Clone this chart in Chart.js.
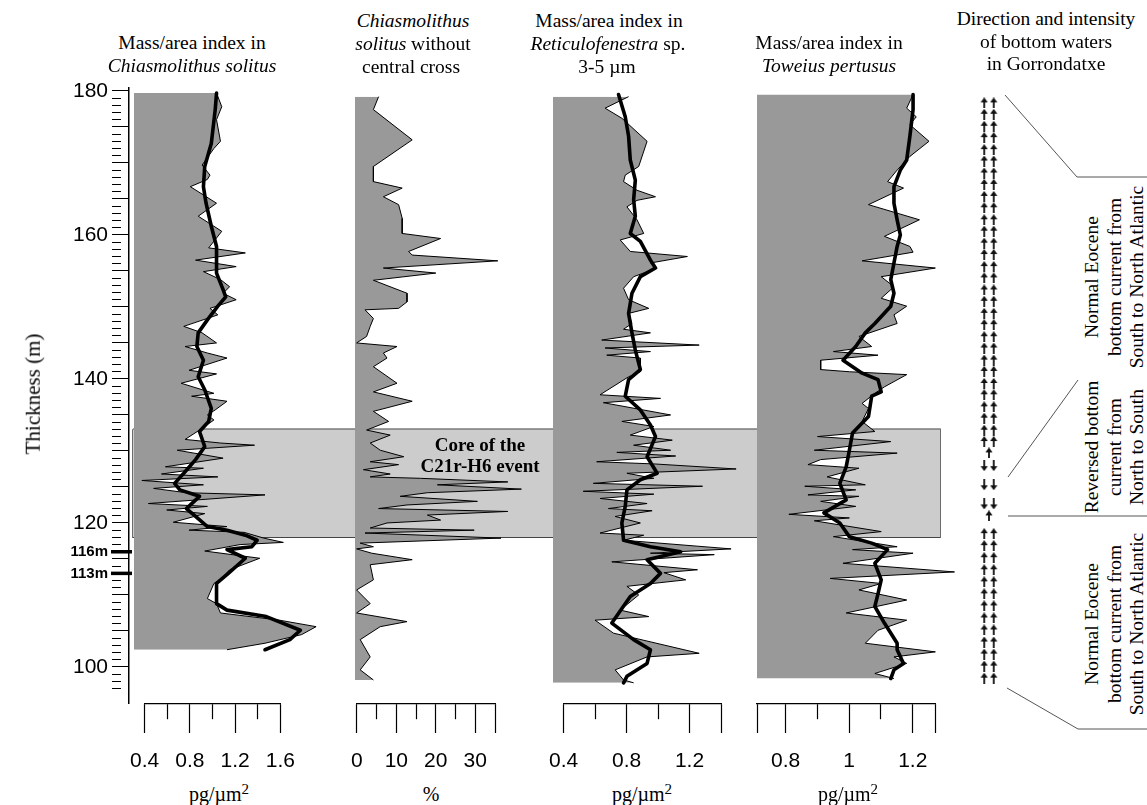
<!DOCTYPE html>
<html>
<head>
<meta charset="utf-8">
<script src="https://cdn.jsdelivr.net/npm/chart.js@4.4.0/dist/chart.umd.min.js"></script>
<style>
  body { margin: 0; background: #fff; }
  #fig { position: relative; width: 1147px; height: 805px; overflow: hidden; background: #fff;
         font-family: "Liberation Serif", "Times New Roman", serif; color: #000; }
  #fig canvas { position: absolute; }
  .ln { position: absolute; font-size: 19.5px; line-height: 23px; white-space: nowrap; transform: translateX(-50%); }
  .unit { position: absolute; font-size: 20px; line-height: 24px; white-space: nowrap; transform: translateX(-50%); }
  .unit sup { font-size: 15px; vertical-align: 7px; line-height: 0; }
  .rot { position: absolute; font-size: 19.5px; line-height: 22.5px; white-space: nowrap; text-align: center;
         transform: translate(-50%, -50%) rotate(-90deg); }
  .core { position: absolute; font-weight: bold; font-size: 19px; line-height: 21px; text-align: center;
          white-space: nowrap; transform: translateX(-50%); }
  svg { position: absolute; left: 0; top: 0; }
</style>
</head>
<body>
<div id="fig">
  <canvas id="coreBox" width="811" height="619" style="left:131px;top:86px"></canvas>
  <canvas id="yAxis" width="140" height="655" style="left:0px;top:68px"></canvas>
  <canvas id="p1" width="190" height="615" style="left:134px;top:88px"></canvas>
  <canvas id="p2" width="180" height="615" style="left:355px;top:88px"></canvas>
  <canvas id="p3" width="190" height="615" style="left:553px;top:88px"></canvas>
  <canvas id="p4" width="200" height="615" style="left:757px;top:88px"></canvas>
  <canvas id="arrows" width="48" height="615" style="left:965px;top:88px"></canvas>
  <canvas id="ax1" width="197" height="72" style="left:114px;top:702px"></canvas>
  <canvas id="ax2" width="180" height="72" style="left:335px;top:702px"></canvas>
  <canvas id="ax3" width="208" height="72" style="left:533px;top:702px"></canvas>
  <canvas id="ax4" width="218" height="72" style="left:737px;top:702px"></canvas>

  <div class="ln" style="left:192px;top:31px">Mass/area index in</div>
  <div class="ln" style="left:192px;top:54px"><i>Chiasmolithus solitus</i></div>
  <div class="ln" style="left:413px;top:9px"><i>Chiasmolithus</i></div>
  <div class="ln" style="left:413px;top:32px"><i>solitus</i> without</div>
  <div class="ln" style="left:411px;top:55px">central cross</div>
  <div class="ln" style="left:609px;top:9px">Mass/area index in</div>
  <div class="ln" style="left:608px;top:32px"><i>Reticulofenestra</i> sp.</div>
  <div class="ln" style="left:607px;top:55px">3-5 µm</div>
  <div class="ln" style="left:829px;top:31px">Mass/area index in</div>
  <div class="ln" style="left:829px;top:54px"><i>Toweius pertusus</i></div>
  <div class="ln" style="left:1046px;top:7px">Direction and intensity</div>
  <div class="ln" style="left:1046px;top:30px">of bottom waters</div>
  <div class="ln" style="left:1046px;top:52px">in Gorrondatxe</div>

  <div class="rot" style="left:33px;top:394px;font-size:21px">Thickness (m)</div>

  <div class="core" style="left:480px;top:434px">Core of the<br>C21r-H6 event</div>

  <div class="unit" style="left:219px;top:782px">pg/µm<sup>2</sup></div>
  <div class="unit" style="left:431px;top:782px">%</div>
  <div class="unit" style="left:642px;top:782px">pg/µm<sup>2</sup></div>
  <div class="unit" style="left:848px;top:782px">pg/µm<sup>2</sup></div>

  <div class="rot" style="left:1115px;top:277px">Normal Eocene<br>bottom current from<br>South to North Atlantic</div>
  <div class="rot" style="left:1115px;top:447px">Reversed bottom<br>current from<br>North to South</div>
  <div class="rot" style="left:1115px;top:624px">Normal Eocene<br>bottom current from<br>South to North Atlantic</div>

  <svg width="1147" height="805">
    <g stroke="#555" stroke-width="1" fill="none">
      <polyline points="1005,95 1077,177 1147,177"/>
      <polyline points="1008,477 1078,380"/>
      <polyline points="1008,516 1147,516"/>
      <polyline points="1007,688 1078,729 1147,729"/>
    </g>
  </svg>
</div>

<script>
/************ data: depth (m) and values ************/
// Mass/area index in Chiasmolithus solitus (pg/µm2)
const p1Depth = [179.7, 177.8, 176.0, 173.0, 172.0, 169.7, 168.3, 167.7, 166.7, 164.4, 162.6, 160.5, 158.2, 157.5, 156.5,
  155.6, 154.9, 153.8, 152.8, 151.9, 151.0, 149.8, 148.9, 147.3, 146.4, 145.0, 144.5, 143.6, 142.9, 141.2,
  140.7, 139.4, 138.0, 137.6, 136.9, 135.7, 135.0, 134.3, 132.9, 131.6, 131.1, 130.8, 130.1, 129.0, 127.8,
  127.6, 126.8, 126.4, 125.9, 125.3, 124.8, 124.2, 123.9, 122.7, 122.3, 121.8, 121.3, 120.1, 119.5, 119.0,
  118.7, 117.9, 117.3, 117.0, 116.1, 115.1, 113.5, 112.1, 111.6, 109.5, 108.8, 107.5, 106.5, 105.6, 104.5,
  103.3, 102.4];
const p1Mass = [1.03, 1.07, 1.03, 1.06, 1.01, 0.92, 0.98, 0.96, 0.83, 1.03, 0.89, 1.07, 0.97, 1.25, 0.87,
  1.18, 0.93, 1.06, 1.13, 1.08, 1.18, 0.98, 1.04, 0.78, 0.92, 1.03, 0.79, 0.96, 1.11, 0.82,
  1.03, 0.76, 1.01, 0.84, 1.11, 1.02, 0.96, 1.01, 0.90, 0.79, 1.06, 1.32, 0.73, 1.08, 0.64,
  0.93, 0.61, 1.04, 0.46, 0.93, 0.55, 0.80, 1.40, 0.51, 0.96, 0.65, 0.94, 0.70, 1.11, 0.82,
  1.24, 1.39, 1.54, 1.21, 0.94, 1.36, 1.13, 1.06, 1.01, 0.96, 1.03, 1.06, 1.51, 1.79, 1.68,
  1.40, 1.11];
const p1SmoothDepth = [179.7, 177.4, 172.7, 169.5, 166.7, 164.4, 161.2, 158.4, 154.7, 152.4, 151.4, 150.1, 148.2, 146.4,
  144.5, 142.6, 140.3, 138.5, 135.9, 134.1, 132.7, 130.6, 128.8, 126.9, 125.5, 124.6, 123.7, 122.0, 120.9,
  119.5, 119.0, 118.3, 117.6, 116.7, 116.3, 115.1, 113.0, 111.6, 108.8, 107.9, 107.0, 105.1, 103.8, 102.4];
const p1Smooth = [1.03, 1.02, 0.99, 0.94, 0.93, 0.95, 0.99, 1.03, 1.03, 1.08, 1.10, 1.04, 0.96, 0.89,
  0.88, 0.93, 0.89, 0.94, 0.99, 0.97, 0.90, 0.94, 0.87, 0.78, 0.71, 0.75, 0.90, 0.80, 0.87,
  0.96, 1.11, 1.25, 1.34, 1.30, 1.11, 1.25, 1.12, 1.03, 1.03, 1.11, 1.41, 1.67, 1.59, 1.40];

// Chiasmolithus solitus without central cross (%)
const p2Depth = [179.2, 177.4, 173.2, 169.5, 167.4, 166.5, 165.3, 164.2, 162.3, 160.2, 159.5, 157.7, 157.2, 156.4, 155.4,
  154.7, 153.7, 151.9, 150.7, 149.8, 149.6, 148.4, 147.3, 145.9, 145.0, 144.5, 143.6, 142.9, 141.7, 139.4,
  138.2, 136.9, 135.5, 134.1, 132.9, 132.2, 131.1, 130.1, 129.2, 128.5, 128.1, 127.4, 126.8, 126.4, 126.2,
  125.7, 125.3, 124.7, 124.2, 123.7, 123.0, 122.5, 122.0, 121.6, 121.1, 120.4, 120.0, 119.3, 119.0, 118.6,
  117.9, 117.2, 116.7, 116.4, 115.8, 114.9, 114.2, 112.1, 110.7, 108.8, 107.5, 106.3, 105.6, 103.8, 101.4,
  99.6, 98.2];
const p2Pct = [5.9, 4.6, 14.3, 4.6, 4.6, 11.8, 7.1, 10.9, 11.8, 11.8, 21.4, 13.4, 14.3, 35.7, 7.1,
  20.2, 4.6, 13.0, 13.0, 10.9, 2.5, 4.6, 3.8, 2.9, 0.4, 10.5, 7.1, 8.0, 4.6, 10.5,
  4.6, 14.3, 4.6, 8.4, 2.9, 8.8, 3.8, 6.3, 12.2, 3.8, 10.9, 2.1, 8.8, 3.8, 16.4,
  38.2, 20.6, 41.6, 18.1, 11.3, 30.6, 13.0, 5.9, 38.2, 18.1, 21.4, 8.0, 3.8, 29.8, 2.5,
  36.5, 1.3, 4.6, 0.4, 4.2, 14.3, 3.8, 4.6, 0.4, 3.8, 0.4, 13.0, 6.3, 1.3, 3.8,
  1.3, 4.6];

// Mass/area index in Reticulofenestra sp. 3-5 µm (pg/µm2)
const p3Depth = [179.2, 177.6, 176.2, 173.0, 169.5, 168.3, 167.4, 166.2, 165.3, 164.8, 163.9, 162.1, 160.2, 159.3, 157.7,
  157.0, 156.1, 155.4, 154.2, 152.6, 151.0, 149.8, 149.1, 147.7, 146.9, 146.4, 145.4, 144.7, 144.3, 143.8,
  143.3, 142.9, 142.4, 141.0, 140.3, 137.8, 137.3, 136.7, 135.0, 134.1, 133.4, 132.2, 131.5, 130.8, 130.1,
  129.8, 129.3, 128.5, 128.2, 127.5, 126.9, 126.2, 125.5, 125.1, 124.4, 124.0, 123.4, 122.7, 122.0, 121.7,
  120.9, 120.0, 118.6, 118.3, 117.6, 116.4, 115.8, 115.6, 114.6, 113.5, 113.1, 112.1, 111.2, 110.0, 107.9,
  107.0, 106.5, 104.7, 101.9, 101.4, 99.6, 98.2, 97.8];
const p3Mass = [0.85, 0.71, 0.81, 0.96, 0.91, 0.83, 0.82, 0.90, 1.01, 0.90, 0.84, 0.90, 0.94, 0.80, 0.86,
  1.20, 0.98, 1.02, 0.88, 0.82, 0.85, 0.97, 0.85, 0.87, 0.82, 0.98, 0.69, 1.27, 0.71, 0.98,
  0.72, 0.92, 0.92, 0.92, 0.85, 0.68, 1.04, 0.70, 1.10, 0.81, 1.00, 0.86, 1.11, 0.88, 1.10,
  0.78, 1.13, 0.66, 1.00, 1.49, 0.84, 1.00, 0.64, 1.29, 0.58, 1.00, 0.68, 0.96, 0.73, 0.99,
  0.77, 0.92, 0.68, 0.94, 0.82, 1.46, 0.98, 1.36, 0.75, 1.26, 1.06, 1.19, 0.84, 0.91, 0.80,
  0.97, 0.65, 0.76, 1.27, 0.96, 0.77, 0.82, 0.88];
const p3SmoothDepth = [179.5, 176.4, 173.7, 170.4, 167.6, 164.9, 162.6, 160.2, 159.1, 156.5, 155.4, 154.2, 151.9, 149.1,
  146.4, 144.0, 141.3, 139.9, 137.6, 135.7, 133.6, 132.0, 129.2, 126.9, 126.0, 124.6, 122.3, 120.0, 117.6,
  116.7, 116.0, 114.9, 113.0, 111.6, 109.8, 106.1, 103.8, 102.4, 100.5, 98.7, 97.8];
const p3Smooth = [0.79, 0.83, 0.85, 0.86, 0.89, 0.88, 0.89, 0.86, 0.92, 0.98, 1.01, 0.92, 0.87, 0.85,
  0.87, 0.89, 0.92, 0.85, 0.83, 0.92, 0.98, 1.01, 0.96, 1.02, 0.92, 0.84, 0.83, 0.81, 0.82,
  0.98, 1.16, 0.96, 1.04, 0.98, 0.86, 0.75, 0.88, 0.98, 0.96, 0.84, 0.82];

// Mass/area index in Toweius pertusus (pg/µm2)
const p4Depth = [179.5, 177.6, 176.4, 175.3, 173.0, 170.9, 169.0, 167.4, 166.5, 164.2, 162.1, 159.8, 158.4, 157.6, 156.4,
  155.4, 154.2, 152.8, 151.2, 150.1, 148.9, 147.7, 145.9, 144.5, 143.8, 143.3, 142.6, 141.3, 141.0, 140.6,
  138.9, 138.0, 136.6, 135.9, 134.1, 132.7, 132.0, 131.3, 130.1, 129.7, 128.8, 128.1, 127.6, 126.4, 125.3,
  125.1, 124.6, 123.9, 123.7, 123.0, 122.3, 121.2, 120.7, 120.3, 118.8, 118.1, 116.7, 116.3, 115.8, 114.4,
  113.2, 112.3, 111.6, 110.7, 109.3, 107.5, 106.5, 105.1, 103.3, 102.1, 101.4, 100.5, 99.1, 98.4];
const p4Mass = [1.20, 1.18, 1.21, 1.19, 1.25, 1.19, 1.15, 1.12, 1.17, 1.06, 1.22, 1.11, 1.19, 1.20, 1.04,
  1.27, 1.10, 1.14, 1.10, 1.18, 1.14, 1.15, 1.03, 1.07, 0.95, 1.09, 0.91, 0.91, 1.00, 1.18,
  1.11, 1.08, 1.04, 1.06, 1.04, 1.08, 0.90, 1.13, 0.89, 1.15, 0.91, 0.87, 1.03, 0.93, 1.05,
  0.86, 1.02, 0.87, 1.03, 0.91, 1.02, 0.81, 1.00, 0.89, 1.10, 0.95, 1.15, 1.01, 1.20, 0.98,
  1.33, 0.94, 1.10, 1.03, 1.18, 0.99, 1.18, 1.09, 1.05, 1.27, 1.14, 1.18, 1.08, 1.14];
const p4SmoothDepth = [179.5, 177.4, 173.7, 170.4, 169.0, 166.7, 164.4, 162.1, 160.0, 158.4, 156.1, 153.8, 151.9, 150.1,
  147.7, 146.4, 144.5, 142.6, 140.8, 139.9, 138.2, 137.6, 134.8, 132.5, 130.1, 127.8, 125.5, 123.2, 121.4,
  120.0, 118.1, 117.2, 116.3, 114.4, 112.1, 110.2, 108.4, 106.1, 103.3, 102.4, 100.5, 99.6, 98.4];
const p4Smooth = [1.20, 1.20, 1.19, 1.18, 1.16, 1.14, 1.14, 1.15, 1.16, 1.15, 1.14, 1.13, 1.14, 1.13,
  1.08, 1.05, 1.02, 0.98, 1.04, 1.09, 1.10, 1.07, 1.06, 1.01, 1.00, 0.99, 0.97, 0.99, 0.92,
  0.97, 1.00, 1.07, 1.12, 1.08, 1.10, 1.09, 1.08, 1.11, 1.15, 1.15, 1.17, 1.14, 1.13];

// core of the C21r-H6 event (m)
const coreTop = 133;
const coreBottom = 118;

// bottom-water arrows (m)
const upPairDepths = [179.0, 177.4, 175.7, 174.1, 172.4, 170.8, 169.1, 167.5, 165.8, 164.2, 162.5, 160.9, 159.2, 157.6,
  155.9, 154.3, 152.6, 151.0, 149.3, 147.7, 146.0, 144.4, 142.7, 141.1, 139.4, 137.8, 136.1, 134.5, 132.8, 131.2,
  118.2, 116.5, 114.8, 113.1, 111.4, 109.7, 108.0, 106.3, 104.6, 102.9, 101.2, 99.5, 97.8];
const upSingleDepths = [129.6, 120.7];
const downPairDepths = [127.8, 125.1, 122.4];

// ticks and tick labels
const yTickLabels = [100, 120, 140, 160, 180];
const markerDepths = [116, 113];
const markerLabels = ['116m', '113m'];
const p1AxisTicks = [0.4, 0.6, 0.8, 1.0, 1.2, 1.4, 1.6];
const p1TickValues = [0.4, 0.8, 1.2, 1.6];
const p1TickLabels = ['0.4', '0.8', '1.2', '1.6'];
const p2AxisTicks = [0, 5, 10, 15, 20, 25, 30, 35];
const p2TickValues = [0, 10, 20, 30];
const p2TickLabels = ['0', '10', '20', '30'];
const p3AxisTicks = [0.4, 0.6, 0.8, 1.0, 1.2, 1.4];
const p3TickValues = [0.4, 0.8, 1.2];
const p3TickLabels = ['0.4', '0.8', '1.2'];
const p4AxisTicks = [0.71, 0.8, 0.9, 1.0, 1.1, 1.2, 1.27];
const p4TickValues = [0.8, 1, 1.2];
const p4TickLabels = ['0.8', '1', '1.2'];

/************ common ************/
const DEPTH_MIN = 95, DEPTH_MAX = 180.4;
const GRAY = '#999999';
const pts = (ys, xs) => ys.map((d, i) => ({x: xs[i], y: d}));
const near = (a, b) => Math.abs(a - b) < 1e-6;
const base = {
  responsive: false,
  animation: false,
  events: [],
  plugins: {legend: {display: false}, tooltip: {enabled: false}}
};

/************ core box ************/
new Chart(document.getElementById('coreBox'), {
  type: 'line',
  data: {
    datasets: [{
      data: [{x: 1, y: coreTop}, {x: 1, y: coreBottom}],
      fill: {value: 0}, backgroundColor: '#cccccc', borderWidth: 0, pointRadius: 0
    }, {
      data: [{x: 0, y: coreTop}, {x: 1, y: coreTop}, {x: 1, y: coreBottom}, {x: 0, y: coreBottom}, {x: 0, y: coreTop}],
      fill: false, borderColor: '#3c3c3c', borderWidth: 1.5, pointRadius: 0, clip: false
    }]
  },
  options: {
    ...base, indexAxis: 'y',
    layout: {padding: 2},
    scales: {
      x: {type: 'linear', display: false, min: 0, max: 1},
      y: {type: 'linear', display: false, min: DEPTH_MIN, max: DEPTH_MAX}
    }
  }
});

/************ thickness axis ************/
const markerPlugin = {
  id: 'markers',
  afterDraw(chart) {
    const ctx = chart.ctx, y = chart.scales.y;
    ctx.save();
    ctx.strokeStyle = '#000';
    ctx.lineWidth = 3.5;
    ctx.fillStyle = '#000';
    ctx.font = 'bold 15px "Liberation Sans", Arial, sans-serif';
    ctx.textAlign = 'right';
    ctx.textBaseline = 'middle';
    markerDepths.forEach((d, i) => {
      const py = y.getPixelForValue(d);
      ctx.beginPath();
      ctx.moveTo(111, py);
      ctx.lineTo(132, py);
      ctx.stroke();
      ctx.fillText(markerLabels[i], 108, py);
    });
    ctx.restore();
  }
};

new Chart(document.getElementById('yAxis'), {
  type: 'line',
  data: {datasets: []},
  plugins: [markerPlugin],
  options: {
    ...base,
    layout: {padding: {top: 20, bottom: 20, left: 0, right: 0}},
    scales: {
      x: {display: false},
      y: {
        type: 'linear', position: 'left', min: DEPTH_MIN, max: DEPTH_MAX,
        afterFit: s => { s.width = 129; },
        ticks: {
          stepSize: 1, autoSkip: false, includeBounds: false, padding: 4, color: '#000',
          font: {family: '"Liberation Sans", Arial, sans-serif', size: 21},
          callback: v => yTickLabels.includes(v) ? String(v) : ''
        },
        grid: {
          drawOnChartArea: false, tickLength: 17, tickWidth: 1,
          tickColor: c => (c.tick && c.tick.value >= 97) ? '#000' : 'rgba(0,0,0,0)',
          tickBorderDash: c => (c.tick && c.tick.value % 5 === 0) ? [] : [9, 40]
        },
        border: {display: true, color: '#000', width: 1.5}
      }
    }
  }
});

/************ panels ************/
function makePanel(id, xMin, pxPerUnit, depth, vals, sDepth, sVals) {
  const cv = document.getElementById(id);
  const sets = [];
  if (sDepth) {
    sets.push({data: pts(sDepth, sVals), fill: {value: xMin}, backgroundColor: '#ffffff', borderWidth: 0,
      pointRadius: 0, order: 3});
  }
  sets.push({data: pts(depth, vals), fill: {value: xMin}, backgroundColor: GRAY, borderColor: '#000', borderWidth: 1,
    pointRadius: 0, order: 2, borderJoinStyle: 'miter'});
  if (sDepth) {
    sets.push({data: pts(sDepth, sVals), fill: false, borderColor: '#000', borderWidth: 3.6, pointRadius: 0, order: 1,
      borderJoinStyle: 'round', borderCapStyle: 'round'});
  }
  new Chart(cv, {
    type: 'line',
    data: {datasets: sets},
    options: {
      ...base, indexAxis: 'y',
      layout: {padding: 0},
      scales: {
        x: {type: 'linear', display: false, min: xMin, max: xMin + cv.width / pxPerUnit},
        y: {type: 'linear', display: false, min: DEPTH_MIN, max: DEPTH_MAX}
      }
    }
  });
}

makePanel('p1', 0.4, 131, p1Depth, p1Mass, p1SmoothDepth, p1Smooth);
makePanel('p2', 0, 4.0, p2Depth, p2Pct);
makePanel('p3', 0.4, 168, p3Depth, p3Mass, p3SmoothDepth, p3Smooth);
makePanel('p4', 0.71, 318.5, p4Depth, p4Mass, p4SmoothDepth, p4Smooth);

/************ bottom axes ************/
function makeAxis(id, tickList, values, labels, longExtra) {
  new Chart(document.getElementById(id), {
    type: 'line',
    data: {datasets: []},
    options: {
      ...base,
      layout: {padding: {left: 20, right: 20, top: 0, bottom: 0}},
      scales: {
        y: {display: false},
        x: {
          type: 'linear', position: 'bottom', min: tickList[0], max: tickList[tickList.length - 1],
          afterFit: s => { s.height = 70; },
          afterBuildTicks: s => { s.ticks = tickList.map(v => ({value: v})); },
          ticks: {
            autoSkip: false, maxRotation: 0, minRotation: 0, padding: 16, color: '#000',
            font: {family: '"Liberation Sans Narrow", "Liberation Sans", Arial, sans-serif', size: 21},
            callback: v => {
              const k = values.findIndex(t => near(t, v));
              return k >= 0 ? labels[k] : '';
            }
          },
          grid: {
            drawOnChartArea: false, tickLength: 29, tickWidth: 1.2, tickColor: '#000',
            tickBorderDash: c => {
              const v = c.tick ? c.tick.value : 0;
              const isLong = values.some(t => near(t, v)) || longExtra.some(t => near(t, v));
              return isLong ? [] : [15, 40];
            }
          },
          border: {display: true, color: '#000', width: 1.2}
        }
      }
    }
  });
}

makeAxis('ax1', p1AxisTicks, p1TickValues, p1TickLabels, []);
makeAxis('ax2', p2AxisTicks, p2TickValues, p2TickLabels, [35]);
makeAxis('ax3', p3AxisTicks, p3TickValues, p3TickLabels, [1.4]);
makeAxis('ax4', p4AxisTicks, p4TickValues, p4TickLabels, [0.71, 1.27]);

/************ arrows ************/
function arrowImage(up) {
  const c = document.createElement('canvas');
  c.width = 8; c.height = 11;
  const g = c.getContext('2d');
  if (!up) { g.translate(0, 11); g.scale(1, -1); }
  g.fillStyle = '#111';
  g.beginPath();
  g.moveTo(4, 0); g.lineTo(7.6, 5); g.lineTo(0.4, 5); g.closePath();
  g.fill();
  g.fillRect(3.1, 4, 1.8, 7);
  return c;
}

const upPts = [];
upPairDepths.forEach(d => { upPts.push({x: 1.5, y: d}); upPts.push({x: 2.5, y: d}); });
upSingleDepths.forEach(d => upPts.push({x: 2, y: d}));
const downPts = [];
downPairDepths.forEach(d => { downPts.push({x: 1.5, y: d}); downPts.push({x: 2.5, y: d}); });

new Chart(document.getElementById('arrows'), {
  type: 'scatter',
  data: {
    datasets: [
      {data: upPts, pointStyle: arrowImage(true), pointRadius: 4},
      {data: downPts, pointStyle: arrowImage(false), pointRadius: 4}
    ]
  },
  options: {
    ...base,
    layout: {padding: 0},
    scales: {
      x: {type: 'linear', display: false, min: 0, max: 4},
      y: {type: 'linear', display: false, min: DEPTH_MIN, max: DEPTH_MAX}
    }
  }
});
</script>
</body>
</html>
